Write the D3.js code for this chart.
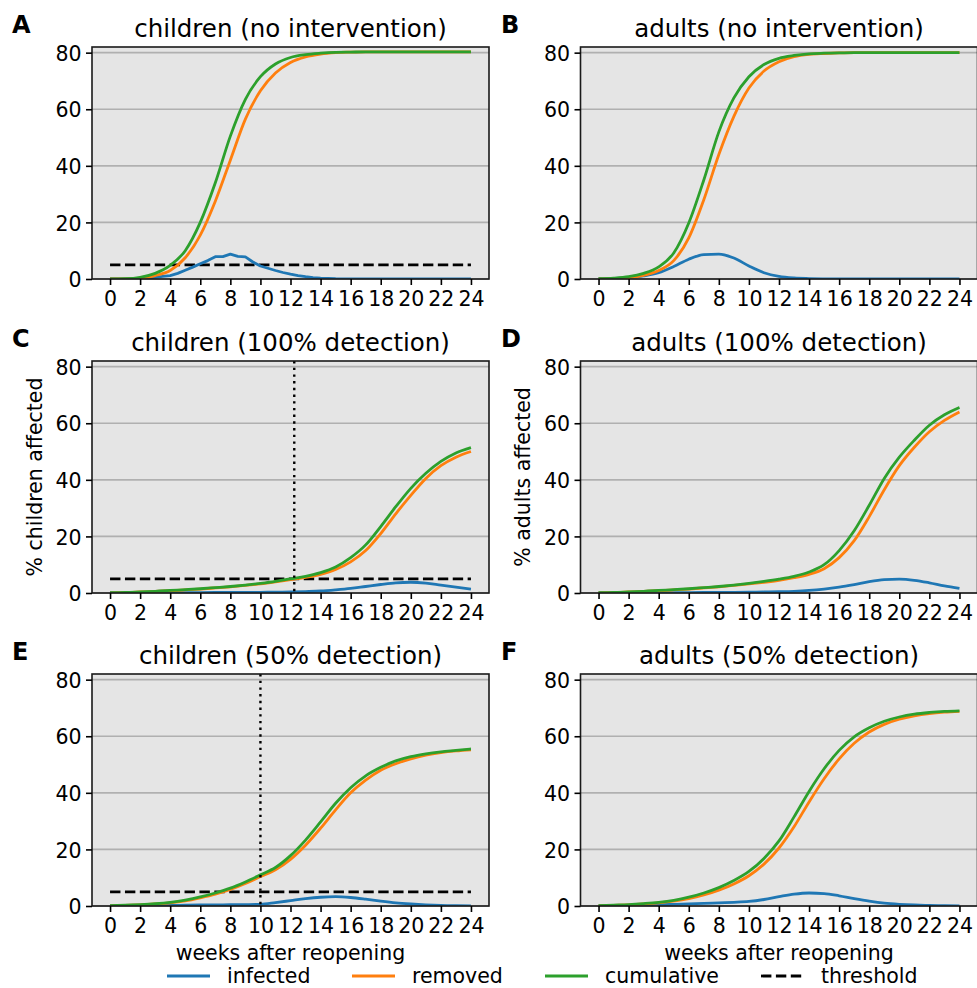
<!DOCTYPE html>
<html>
<head>
<meta charset="utf-8">
<script src="https://cdn.jsdelivr.net/npm/d3@7/dist/d3.min.js"></script>
<style>
    body { margin: 0; background: #fff; }
    svg { display: block; font-family: 'DejaVu Sans', sans-serif; }
</style>
</head>
<body>
<div class="js-chart"></div>
<script>
'use strict';

//x values - whole weeks and half weeks (jagged run in panel A)
var weeks = [0, 1, 2, 3, 4, 5, 6, 7, 8, 9, 10, 11, 12, 13, 14, 15, 16, 17, 18, 19, 20, 21, 22, 23, 24];
var halfWeeks = [0, 0.5, 1, 1.5, 2, 2.5, 3, 3.5, 4, 4.5, 5, 5.5, 6, 6.5, 7, 7.5, 8, 8.5, 9, 9.5,
    10, 10.5, 11, 11.5, 12, 12.5, 13, 13.5, 14, 14.5, 15, 15.5, 16, 16.5, 17, 17.5, 18, 18.5, 19, 19.5,
    20, 20.5, 21, 21.5, 22, 22.5, 23, 23.5, 24];

var xTicks = [0, 2, 4, 6, 8, 10, 12, 14, 16, 18, 20, 22, 24];
var yTicks = [0, 20, 40, 60, 80];
var threshold = 5;

//A - children, no intervention
var aInfected = [0, 0, 0.02, 0.05, 0.1, 0.3, 0.6, 0.9, 1.2, 2.0, 3.1, 4.2, 5.4, 6.5, 7.9, 7.9, 8.8, 8.0, 7.8, 6.0,
    4.6, 3.8, 3.0, 2.3, 1.7, 1.2, 0.8, 0.5, 0.3, 0.2, 0.1, 0.07, 0.05, 0.03, 0.02, 0, 0, 0, 0, 0,
    0, 0, 0, 0, 0, 0, 0, 0, 0];
var aRemoved = [0, 0.05, 0.3, 1.2, 3.0, 7.5, 15.5, 27.5, 42, 56.5, 66.5, 72.8, 76.5, 78.5, 79.5, 80, 80.2, 80.3, 80.3, 80.3, 80.3, 80.3, 80.3, 80.3, 80.3];
var aCumulative = [0, 0.1, 0.6, 2.0, 4.8, 10, 20, 34, 50.5, 63.5, 71.5, 76, 78.3, 79.3, 79.8, 80.1, 80.2, 80.3, 80.3, 80.3, 80.3, 80.3, 80.3, 80.3, 80.3];

//B - adults, no intervention
var bInfected = [0.1, 0.2, 0.5, 1.1, 2.2, 4.4, 7.0, 8.6, 8.8, 7.4, 4.6, 2.2, 0.9, 0.35, 0.15, 0.05, 0, 0, 0, 0, 0, 0, 0, 0, 0];
var bRemoved = [0, 0.15, 0.5, 1.3, 3.0, 6.5, 14.5, 28, 44, 57.5, 67.5, 73.5, 76.8, 78.6, 79.4, 79.7, 79.9, 80, 80, 80, 80, 80, 80, 80, 80];
var bCumulative = [0.1, 0.3, 0.8, 2.0, 4.3, 9.2, 19.8, 35, 52, 64, 71.5, 75.8, 78, 79, 79.6, 79.8, 79.9, 80, 80, 80, 80, 80, 80, 80, 80];

//C - children, 100% detection
var cInfected = [0, 0.02, 0.05, 0.07, 0.1, 0.12, 0.15, 0.17, 0.2, 0.22, 0.25, 0.3, 0.35, 0.5, 0.7, 1.1, 1.6, 2.3, 3.0, 3.6, 3.8, 3.5, 2.8, 2.1, 1.4];
var cRemoved = [0, 0.15, 0.35, 0.55, 0.8, 1.1, 1.4, 1.8, 2.2, 2.7, 3.2, 3.9, 4.7, 5.5, 6.6, 8.3, 11, 15, 21, 28, 34.5, 40.5, 45, 48, 50];
var cCumulative = [0.1, 0.2, 0.4, 0.6, 0.9, 1.2, 1.5, 1.9, 2.3, 2.8, 3.4, 4.1, 5.0, 5.9, 7.2, 9.2, 12.5, 17, 23.5, 30.5, 37, 42.3, 46.5, 49.5, 51.4];
var cStop = 12.25;

//D - adults, 100% detection
var dInfected = [0, 0.02, 0.05, 0.07, 0.1, 0.12, 0.15, 0.17, 0.2, 0.25, 0.3, 0.35, 0.45, 0.6, 0.9, 1.4, 2.1, 3.0, 4.0, 4.7, 4.9, 4.5, 3.6, 2.5, 1.6];
var dRemoved = [0, 0.15, 0.35, 0.55, 0.8, 1.1, 1.4, 1.8, 2.2, 2.7, 3.2, 3.8, 4.5, 5.4, 6.6, 8.6, 12.5, 18.5, 27, 36.5, 45, 51.5, 57, 61, 64];
var dCumulative = [0.1, 0.2, 0.4, 0.6, 0.9, 1.2, 1.5, 1.9, 2.3, 2.8, 3.4, 4.1, 4.9, 5.9, 7.4, 10, 15, 22, 31, 40.5, 48, 54, 59.3, 63, 65.6];

//E - children, 50% detection
var eInfected = [0, 0.05, 0.1, 0.15, 0.2, 0.3, 0.35, 0.4, 0.45, 0.5, 0.6, 1.2, 1.9, 2.6, 3.1, 3.3, 3.0, 2.4, 1.7, 1.1, 0.7, 0.4, 0.2, 0.1, 0.05];
var eRemoved = [0, 0.2, 0.4, 0.7, 1.1, 1.8, 2.9, 4.2, 5.9, 8.0, 10.4, 12.8, 16.5, 21.5, 27.5, 34, 40, 44.5, 48, 50.3, 52, 53.3, 54.2, 54.8, 55.2];
var eCumulative = [0.1, 0.3, 0.5, 0.8, 1.3, 2.1, 3.2, 4.6, 6.3, 8.5, 11, 13.6, 17.8, 23.3, 29.7, 36.3, 41.8, 46, 49, 51.3, 52.8, 53.8, 54.5, 55, 55.5];
var eStop = 10;

//F - adults, 50% detection
var fInfected = [0, 0.1, 0.2, 0.3, 0.45, 0.6, 0.75, 0.9, 1.1, 1.3, 1.6, 2.3, 3.3, 4.2, 4.6, 4.4, 3.6, 2.6, 1.7, 1.0, 0.6, 0.35, 0.2, 0.1, 0.05];
var fRemoved = [0, 0.2, 0.4, 0.7, 1.1, 1.7, 2.6, 3.9, 5.6, 7.8, 10.7, 14.8, 20.5, 28, 36.8, 45, 52, 57.5, 61.5, 64.2, 66, 67.2, 68, 68.5, 68.8];
var fCumulative = [0.1, 0.3, 0.5, 0.85, 1.3, 2.0, 3.1, 4.6, 6.5, 9.0, 12.2, 16.8, 23, 31.5, 40.5, 48.5, 55, 59.8, 63, 65.3, 66.8, 67.8, 68.4, 68.8, 69];

var legendLabels = ['infected', 'removed', 'cumulative', 'threshold'];
var colors = { infected: '#1f77b4', removed: '#ff7f0e', cumulative: '#2ca02c', threshold: '#000' };

//panel table built from the arrays above
var panels = [
    { letter: 'A', title: 'children (no intervention)', col: 0, row: 0, xInf: halfWeeks, inf: aInfected, rem: aRemoved, cum: aCumulative, thr: true },
    { letter: 'B', title: 'adults (no intervention)', col: 1, row: 0, xInf: weeks, inf: bInfected, rem: bRemoved, cum: bCumulative, thr: false },
    { letter: 'C', title: 'children (100% detection)', col: 0, row: 1, xInf: weeks, inf: cInfected, rem: cRemoved, cum: cCumulative, thr: true, stop: cStop, ylabel: '% children affected' },
    { letter: 'D', title: 'adults (100% detection)', col: 1, row: 1, xInf: weeks, inf: dInfected, rem: dRemoved, cum: dCumulative, thr: false, ylabel: '% adults affected' },
    { letter: 'E', title: 'children (50% detection)', col: 0, row: 2, xInf: weeks, inf: eInfected, rem: eRemoved, cum: eCumulative, thr: true, stop: eStop, xlabel: true },
    { letter: 'F', title: 'adults (50% detection)', col: 1, row: 2, xInf: weeks, inf: fInfected, rem: fRemoved, cum: fCumulative, thr: false, xlabel: true }
];

var dim = { w: 977, h: 988 };
var colX = [92, 580.5];
var rowY = [47, 361, 674];
var plotW = 397, plotH = 232;
var lw = 2.8;
var fs = '20.5px';

var svg = d3.select('.js-chart').append('svg')
    .attr('width', dim.w)
    .attr('height', dim.h);

var x = d3.scaleLinear().domain([-1.2, 25.2]).range([0, plotW]);
var y = d3.scaleLinear().domain([0, 82]).range([plotH, 0]);

function drawLine(g, xs, ys, color, smooth) {
    var line = d3.line()
        .x(function (d, i) { return x(xs[i]); })
        .y(function (d) { return y(d); })
        .curve(smooth ? d3.curveMonotoneX : d3.curveLinear);
    g.append('path')
        .datum(ys)
        .attr('d', line)
        .style('fill', 'none')
        .style('stroke', color)
        .style('stroke-width', lw)
        .style('stroke-linejoin', 'round');
}

function drawPanel(p, idx) {
    var g = svg.append('g')
        .attr('transform', 'translate(' + colX[p.col] + ',' + rowY[p.row] + ')');

    //background
    g.append('rect')
        .attr('width', plotW)
        .attr('height', plotH)
        .style('fill', '#e5e5e5');

    //horizontal grid
    g.selectAll('.js-grid').data(yTicks).enter().append('line')
        .attr('x1', 0).attr('x2', plotW)
        .attr('y1', function (d) { return y(d); })
        .attr('y2', function (d) { return y(d); })
        .style('stroke', '#b0b0b0')
        .style('stroke-width', 1.6);

    //clip for the lines
    var clipId = 'clip-' + idx;
    g.append('clipPath').attr('id', clipId)
        .append('rect').attr('width', plotW).attr('height', plotH);
    var lines = g.append('g').attr('clip-path', 'url(#' + clipId + ')');

    if (p.thr) {
        lines.append('line')
            .attr('x1', x(0)).attr('x2', x(24))
            .attr('y1', y(threshold)).attr('y2', y(threshold))
            .style('stroke', '#000')
            .style('stroke-width', lw)
            .style('stroke-dasharray', '10.4,4.5');
    }

    drawLine(lines, p.xInf, p.inf, colors.infected, p.xInf === weeks);
    drawLine(lines, weeks, p.rem, colors.removed, true);
    drawLine(lines, weeks, p.cum, colors.cumulative, true);

    //stop week marker
    if (p.stop !== undefined) {
        lines.append('line')
            .attr('x1', x(p.stop)).attr('x2', x(p.stop))
            .attr('y1', 0).attr('y2', plotH)
            .style('stroke', '#000')
            .style('stroke-width', 2.4)
            .style('stroke-dasharray', '2.4,4.3');
    }

    //spines
    g.append('rect')
        .attr('width', plotW)
        .attr('height', plotH)
        .style('fill', 'none')
        .style('stroke', '#1a1a1a')
        .style('stroke-width', 1.6);

    //axes
    var xAxis = g.append('g')
        .attr('transform', 'translate(0,' + plotH + ')')
        .call(d3.axisBottom(x).tickValues(xTicks).tickSize(6).tickPadding(6.5));
    var yAxis = g.append('g')
        .call(d3.axisLeft(y).tickValues(yTicks).tickSize(6).tickPadding(4.5));

    [xAxis, yAxis].forEach(function (a) {
        a.select('.domain').remove();
        a.selectAll('line').style('stroke', '#000').style('stroke-width', 1.6);
        a.selectAll('text')
            .style('font-family', "'DejaVu Sans', sans-serif")
            .style('font-size', fs)
            .style('fill', '#000');
    });
    yAxis.selectAll('text').attr('dy', '0.37em');

    //title and panel letter
    g.append('text')
        .attr('x', plotW / 2)
        .attr('y', -10.5)
        .attr('text-anchor', 'middle')
        .style('font-size', '24.5px')
        .text(p.title);
    g.append('text')
        .attr('x', p.col === 0 ? 12 - colX[0] : 501 - colX[1])
        .attr('y', -14)
        .style('font-size', '24px')
        .style('font-weight', 'bold')
        .text(p.letter);

    if (p.ylabel) {
        g.append('text')
            .attr('transform', 'translate(' + (p.col === 0 ? -50 : -51) + ',' + plotH / 2 + ') rotate(-90)')
            .attr('text-anchor', 'middle')
            .style('font-size', fs)
            .text(p.ylabel);
    }
    if (p.xlabel) {
        g.append('text')
            .attr('x', plotW / 2)
            .attr('y', plotH + 54)
            .attr('text-anchor', 'middle')
            .style('font-size', fs)
            .text('weeks after reopening');
    }
}

panels.forEach(drawPanel);

//legend across the bottom
var legendX = [167, 352, 545, 761];
var legend = svg.append('g').attr('transform', 'translate(0,976)');
legendLabels.forEach(function (name, i) {
    var item = legend.append('g').attr('transform', 'translate(' + legendX[i] + ',0)');
    item.append('line')
        .attr('x1', 0).attr('x2', 43)
        .style('stroke', colors[name])
        .style('stroke-width', lw)
        .style('stroke-dasharray', name === 'threshold' ? '10.4,4.5' : null);
    item.append('text')
        .attr('x', 60)
        .attr('y', 6.5)
        .style('font-size', fs)
        .text(name);
});
</script>
</body>
</html>
